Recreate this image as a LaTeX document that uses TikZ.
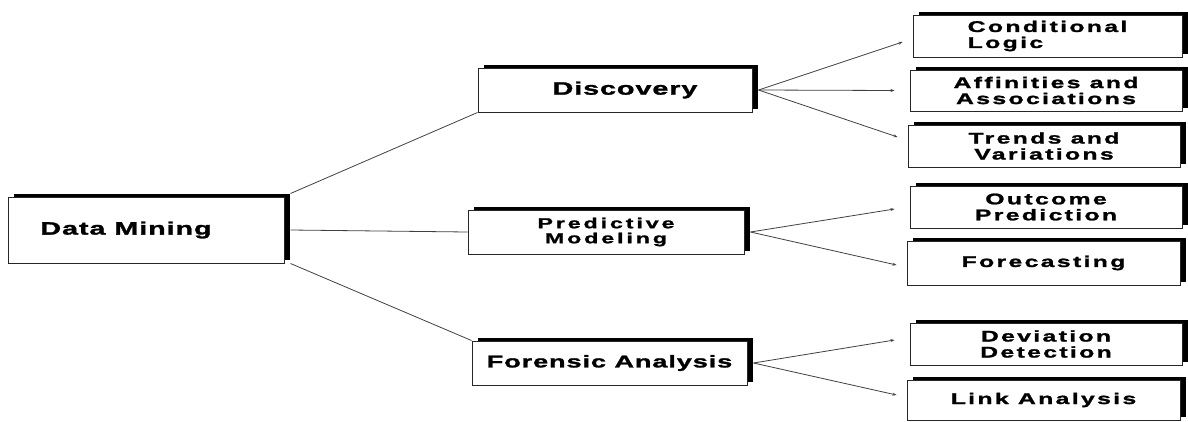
\documentclass[tikz,border=0pt]{standalone}
\usepackage{fontspec}
\usetikzlibrary{arrows.meta,shadows}
\newfontfamily\lblfont[FakeStretch=1.6,FakeBold=1.5]{Liberation Sans}
\tikzset{
  box/.style={draw=black!85, line width=1pt, fill=white, inner sep=0pt,
    drop shadow={shadow xshift=6pt, shadow yshift=3pt, fill=black, opacity=1}},
  mainlbl/.style={font=\lblfont\bfseries\fontsize{18}{18}\selectfont\addfontfeatures{LetterSpace=5}},
  forlbl/.style={font=\lblfont\bfseries\fontsize{17}{17}\selectfont\addfontfeatures{LetterSpace=5}},
  twolbl/.style={align=center, font=\lblfont\bfseries\fontsize{14.5}{15}\selectfont\addfontfeatures{LetterSpace=20}},
  leaflbl/.style={align=center, font=\lblfont\bfseries\fontsize{15.5}{16}\selectfont\addfontfeatures{LetterSpace=15}},
  conn/.style={draw=black!75, line width=0.8pt},
  arr/.style={conn, -{Stealth[length=4pt,width=3pt]}}
}
\begin{document}
\begin{tikzpicture}[x=1pt,y=-1pt]
\useasboundingbox (0,0) rectangle (1188,421);
% level 1
\node[box, mainlbl, minimum width=276pt, minimum height=66pt] (dm) at (146,230) {Data Mining\hspace{40pt}\null};
% level 2
\node[box, mainlbl, minimum width=274pt, minimum height=44pt] (disc) at (615,90) {\hspace{20pt}Discovery};
\node[box, twolbl, minimum width=276pt, minimum height=44pt] (pred) at (606,232) {Predictive\\Modeling};
\node[box, forlbl, minimum width=275pt, minimum height=44pt] (for) at (609.5,363) {Forensic Analysis};
% leaves
\node[box, leaflbl, align=left, minimum width=269pt, minimum height=42pt] (cl) at (1047.5,36) {Conditional\\Logic};
\node[box, leaflbl, minimum width=272pt, minimum height=41pt] (aa) at (1046,90.5) {Affinities and\\Associations};
\node[box, leaflbl, minimum width=272pt, minimum height=42pt] (tv) at (1044,146) {Trends and\\Variations};
\node[box, leaflbl, minimum width=272pt, minimum height=42pt] (op) at (1046,207) {Outcome\\Prediction};
\node[box, leaflbl, minimum width=273pt, minimum height=44pt] (fc) at (1043.5,263) {Forecasting};
\node[box, leaflbl, minimum width=272pt, minimum height=42pt] (dd) at (1046,344) {Deviation\\Detection};
\node[box, leaflbl, minimum width=273pt, minimum height=40pt] (la) at (1043.5,400) {Link Analysis};
% connectors from Data Mining
\draw[conn] ([xshift=6pt,yshift=3pt]dm.north east) -- (disc.south west);
\draw[conn] ([xshift=6pt]dm.east) -- (pred.west);
\draw[conn] ([xshift=6pt]dm.south east) -- (for.north west);
% Discovery fan
\draw[arr] ([xshift=6pt]disc.east) -- ([xshift=-10pt,yshift=-6pt]cl.west);
\draw[arr] ([xshift=6pt]disc.east) -- ([xshift=-15pt]aa.west);
\draw[arr] ([xshift=6pt]disc.east) -- ([xshift=-10pt,yshift=9pt]tv.west);
% Predictive fan
\draw[arr] ([xshift=6pt]pred.east) -- ([xshift=-15pt,yshift=-2pt]op.west);
\draw[arr] ([xshift=6pt]pred.east) -- ([xshift=-10pt,yshift=-2pt]fc.west);
% Forensic fan
\draw[arr] ([xshift=6pt]for.east) -- ([xshift=-15pt,yshift=4pt]dd.west);
\draw[arr] ([xshift=6pt]for.east) -- ([xshift=-10pt,yshift=5pt]la.west);
\end{tikzpicture}
\end{document}
